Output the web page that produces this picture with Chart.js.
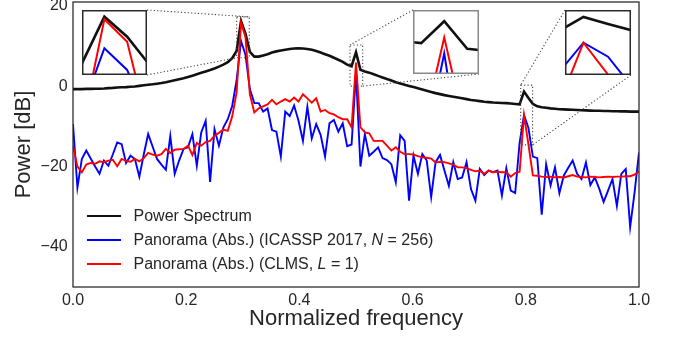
<!DOCTYPE html>
<html>
<head>
<meta charset="utf-8">
<script src="https://cdn.jsdelivr.net/npm/chart.js@4/dist/chart.umd.min.js"></script>
<style>
  html, body { margin: 0; padding: 0; background: #fff; }
  #wrap { position: relative; width: 673px; height: 341px; overflow: hidden; font-family: 'Liberation Sans', Arial, sans-serif; }
  #main { position: absolute; left: 0; top: 0; }
  .inset { position: absolute; }
  #legend { position: absolute; left: 87px; top: 204px; color: #262626; font-size: 16px; }
  .row { height: 24px; display: flex; align-items: center; white-space: nowrap; }
  .sw { width: 34px; margin-right: 12.5px; }
</style>
</head>
<body>
<div id="wrap">
  <canvas id="main" width="673" height="341"></canvas>
  <canvas id="in1" class="inset" width="65" height="65" style="left:82px;top:10px"></canvas>
  <canvas id="in2" class="inset" width="66" height="64" style="left:413px;top:10px"></canvas>
  <canvas id="in3" class="inset" width="66" height="65" style="left:565px;top:10px"></canvas>
  <div id="legend">
    <div class="row"><div class="sw" style="border-top:2.6px solid #111"></div><span>Power Spectrum</span></div>
    <div class="row"><div class="sw" style="border-top:2px solid #0000ff"></div><span>Panorama (Abs.) (ICASSP 2017, <i>N</i> = 256)</span></div>
    <div class="row"><div class="sw" style="border-top:2px solid #ff0000"></div><span>Panorama (Abs.) (CLMS, <i>L</i> = 1)</span></div>
  </div>
</div>
<script>
// ---- data (normalized frequency grid: k/128, k = 0..128) ----
const freq = Array.from({length: 129}, (_, k) => k / 128);

const powerSpectrum = [
  -0.7,-0.7,-0.7,-0.65,-0.65,-0.6,-0.6,-0.55,-0.45,-0.4,
  -0.3,-0.25,-0.2,-0.1,-0.05,0.1,0.25,0.4,0.5,0.65,
  0.8,1.0,1.25,1.5,1.75,2.0,2.3,2.65,3.0,3.35,
  3.7,4.05,4.45,4.9,5.4,6.0,7.0,8.8,16.25,13.1,
  8.6,7.4,7.4,7.7,8.0,8.4,8.7,8.9,9.1,9.3,
  9.4,9.45,9.4,9.3,9.1,8.8,8.4,8.0,7.6,7.1,
  6.6,6.1,5.4,5.0,8.5,4.1,3.7,3.4,3.0,2.6,
  2.2,1.8,1.45,1.0,0.7,0.4,0.1,-0.2,-0.5,-0.8,
  -1.1,-1.4,-1.7,-1.95,-2.2,-2.4,-2.6,-2.8,-3.0,-3.2,
  -3.4,-3.55,-3.7,-3.85,-3.95,-4.05,-4.1,-4.15,-4.2,-4.3,
  -4.4,-4.5,-1.3,-2.9,-4.4,-5.0,-5.2,-5.35,-5.5,-5.6,
  -5.7,-5.75,-5.8,-5.85,-5.9,-5.95,-6.0,-6.05,-6.1,-6.1,
  -6.15,-6.15,-6.2,-6.2,-6.25,-6.25,-6.3,-6.3,-6.3
];

const panoramaICASSP = [
  -9.4,-25.2,-18.1,-16,-18,-20,-21.8,-18.5,-19.8,-17,
  -14,-14.4,-19.1,-17.3,-18.1,-22.5,-17,-11.9,-15,-18.1,
  -19.5,-20.8,-12.4,-21.8,-18.5,-15.6,-15.2,-11.9,-19.8,-11.5,
  -8.6,-23.8,-10.7,-14.8,-10.3,-8.2,-4.9,1.5,11.3,7.9,
  -0.7,-4.2,-4.2,-6.3,-5.5,-10.9,-11.3,-17.5,-6.3,-7.4,
  -4.8,-8.6,-13.6,-5.1,-13,-9.4,-12.1,-17.5,-9.2,-8.4,
  -11.3,-9.2,-14.9,-14.5,3.35,-20,-11.9,-17.3,-16.3,-15.2,
  -17.9,-18.4,-19.4,-23.9,-12.2,-13.6,-28.5,-17.3,-21.8,-16.9,
  -18.5,-27.6,-18.9,-17.1,-21,-24.8,-18.9,-23.1,-22.7,-18.9,
  -25.6,-28.5,-20.6,-22.1,-21,-21.4,-21,-27.2,-20.4,-26,
  -26.6,-14,-7.2,-10.4,-17.5,-17.9,-32,-19.4,-24.7,-20.2,
  -26.6,-22.2,-20.3,-18.5,-21.8,-23.1,-19,-24.6,-22.7,-25.5,
  -28.8,-26,-23.1,-29.8,-21.8,-20.6,-35.1,-26.4,-16.5
];

const panoramaCLMS = [
  -14.8,-20,-21.4,-19.5,-19.1,-19.3,-18.7,-18.9,-18.5,-18.3,
  -19.9,-18.1,-18.6,-18.8,-18.1,-18.7,-17.9,-16.6,-17,-17.3,
  -16.9,-15.6,-16.6,-15.8,-15.7,-15.6,-14.8,-17.1,-14.1,-14.8,
  -13.9,-13.6,-12.3,-11.6,-10.8,-11.1,-7.5,-1.5,15.85,12.3,
  -2,-6.5,-5.5,-5,-4.5,-3.4,-4.5,-3.8,-3.2,-3.8,
  -2.8,-3.8,-2,-3,-4.1,-3,-6.3,-5.9,-6.7,-7,
  -7.7,-8.2,-8.2,-10.2,5.9,-10.2,-11.5,-11.7,-13.6,-13.6,
  -13.6,-14.8,-16,-15.2,-16.3,-16.9,-16.9,-17,-17.4,-17.7,
  -17.8,-18,-19,-18.8,-18.9,-19.2,-19.5,-20.2,-20.2,-20.4,
  -20.8,-21.2,-21,-21.8,-21,-21.4,-21.3,-21.4,-21.4,-22.5,
  -21.6,-21.3,-7.2,-14.5,-22.2,-22.3,-22.5,-22.6,-22.5,-22.7,
  -22.6,-22.7,-22.4,-22.1,-22.5,-22.6,-22.7,-22.5,-22.6,-22.7,
  -22.6,-22.5,-22.6,-22.5,-22.5,-22.4,-22.4,-22.0,-21.2
];

const seriesLabels = ['Power Spectrum', 'Panorama (Abs.) (ICASSP 2017, N = 256)', 'Panorama (Abs.) (CLMS, L = 1)'];
const xTicks = [0, 0.2, 0.4, 0.6, 0.8, 1.0];
const yTicks = [-40, -20, 0, 20];

// zoomed regions (data coordinates)
const zoomX = [[0.2892, 0.3115], [0.4894, 0.5118], [0.791, 0.812]];
const zoomY = [[7.1, 17.3], [0.05, 10.3], [-14.6, 0.3]];

// ---- styling / layout ----
const FONT = "'Liberation Sans', Arial, sans-serif";
const TXT = '#262626';
Chart.defaults.font.family = FONT;

const pts = arr => freq.map((f, i) => ({x: f, y: arr[i]}));
function makeDatasets(wBlack, wColor) {
  return [
    {label: seriesLabels[0], data: pts(powerSpectrum), borderColor: '#111111', borderWidth: wBlack, order: 3},
    {label: seriesLabels[1], data: pts(panoramaICASSP), borderColor: '#0000ff', borderWidth: wColor, order: 2},
    {label: seriesLabels[2], data: pts(panoramaCLMS), borderColor: '#ff0000', borderWidth: wColor, order: 1}
  ].map(d => Object.assign(d, {pointRadius: 0, tension: 0, fill: false, borderJoinStyle: 'miter', borderCapStyle: 'butt'}));
}

// inset placement on the page (pixels) and how connectors attach
const insetRects = [
  {l: 82, t: 10, w: 65, h: 65, border: '#2a2a2a', links: [['R','T','x1','top'], ['R','B','x0','bot']]},
  {l: 413, t: 10, w: 66, h: 64, border: '#888888', links: [['L','T','x0','top'], ['R','B','x1','bot']]},
  {l: 565, t: 10, w: 66, h: 65, border: '#2a2a2a', links: [['L','T','x0','top'], ['R','B','x1','bot']]}
];

const framePlugin = {
  id: 'frame',
  afterDatasetsDraw(chart) {
    const {ctx, chartArea: a, scales: {x, y}} = chart;
    ctx.save();
    // dotted zoom boxes + connectors
    ctx.strokeStyle = '#444';
    ctx.lineWidth = 1.1;
    ctx.setLineDash([1.2, 2.2]);
    zoomX.forEach((zx, i) => {
      const bx0 = x.getPixelForValue(zx[0]), bx1 = x.getPixelForValue(zx[1]);
      const byT = y.getPixelForValue(zoomY[i][1]), byB = y.getPixelForValue(zoomY[i][0]);
      ctx.strokeRect(bx0, byT, bx1 - bx0, byB - byT);
      const r = insetRects[i];
      const ip = {L: r.l, R: r.l + r.w, T: r.t, B: r.t + r.h};
      const bp = {x0: bx0, x1: bx1, top: byT, bot: byB};
      r.links.forEach(([ix, iy, bxk, byk]) => {
        ctx.beginPath();
        ctx.moveTo(ip[ix], ip[iy]);
        ctx.lineTo(bp[bxk], bp[byk]);
        ctx.stroke();
      });
    });
    ctx.setLineDash([]);
    // four spines
    ctx.strokeStyle = TXT;
    ctx.lineWidth = 1.25;
    ctx.strokeRect(a.left, a.top, a.right - a.left, a.bottom - a.top);
    ctx.restore();
  }
};

new Chart(document.getElementById('main'), {
  type: 'line',
  data: {datasets: makeDatasets(2.6, 1.9)},
  options: {
    responsive: false, animation: false, devicePixelRatio: 1,
    layout: {padding: {top: 2, right: 34, left: 0, bottom: 0}},
    plugins: {legend: {display: false}, tooltip: {enabled: false}},
    scales: {
      x: {
        type: 'linear', min: 0, max: 1,
        afterBuildTicks(s) { s.ticks = xTicks.map(v => ({value: v})); },
        afterFit(s) { s.height = 54; s.paddingLeft = 0; s.paddingRight = 0; },
        grid: {display: false, drawTicks: false},
        border: {display: false},
        ticks: {padding: 4.4, color: TXT, font: {size: 16}, maxRotation: 0, autoSkip: false,
                callback: v => Number(v).toFixed(1)},
        title: {display: true, text: 'Normalized frequency', color: TXT, font: {size: 22}, padding: {top: 0, bottom: 8.7}}
      },
      y: {
        type: 'linear', min: -50, max: 21,
        afterBuildTicks(s) { s.ticks = yTicks.map(v => ({value: v})); },
        afterFit(s) { s.width = 73; s.paddingTop = 0; s.paddingBottom = 0; },
        grid: {display: false, drawTicks: false},
        border: {display: false},
        ticks: {padding: 5.3, color: TXT, font: {size: 16},
                callback: v => (v < 0 ? '\u2212' + Math.abs(v) : String(v))},
        title: {display: true, text: 'Power [dB]', color: TXT, font: {size: 22}, padding: {top: 11, bottom: 0}}
      }
    }
  },
  plugins: [framePlugin]
});

// ---- insets ----
['in1', 'in2', 'in3'].forEach((id, i) => {
  const r = insetRects[i];
  new Chart(document.getElementById(id), {
    type: 'line',
    data: {datasets: makeDatasets(2.6, 2.0)},
    options: {
      responsive: false, animation: false, devicePixelRatio: 1,
      layout: {padding: 0},
      plugins: {legend: {display: false}, tooltip: {enabled: false}},
      scales: {
        x: {type: 'linear', display: false, min: zoomX[i][0], max: zoomX[i][1]},
        y: {type: 'linear', display: false, min: zoomY[i][0], max: zoomY[i][1]}
      }
    },
    plugins: [{
      id: 'insetFrame',
      beforeDraw(c) { c.ctx.save(); c.ctx.fillStyle = '#fff'; c.ctx.fillRect(0, 0, c.width, c.height); c.ctx.restore(); },
      afterDraw(c) {
        const ctx = c.ctx; ctx.save();
        ctx.strokeStyle = r.border; ctx.lineWidth = 1.5;
        ctx.strokeRect(0.75, 0.75, c.width - 1.5, c.height - 1.5);
        ctx.restore();
      }
    }]
  });
});
</script>
</body>
</html>
